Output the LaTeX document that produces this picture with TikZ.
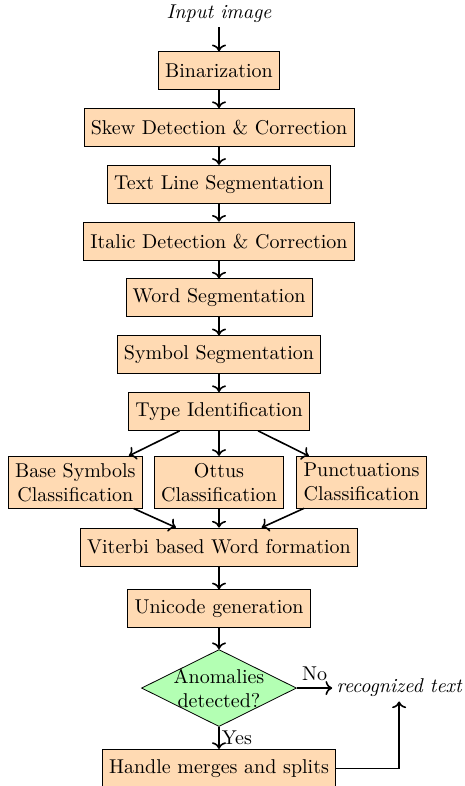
\documentclass[tikz,border=0pt]{standalone}
\usepackage{tikz}
\usetikzlibrary{arrows.meta,positioning,shapes.geometric}
\definecolor{stagefill}{RGB}{255,218,179}
\definecolor{testfill}{RGB}{179,255,179}
\tikzset{
  stage/.style={draw, fill=stagefill, minimum height=19pt, align=center},
  decision/.style={draw, diamond, fill=testfill, aspect=2, inner sep=-2pt,
    minimum width=77.5pt, minimum height=38.5pt, align=center},
  flow/.style={draw, thick, -{To}},
  io/.style={font=\itshape, inner sep=2pt}
}

\begin{document}
\begin{tikzpicture}[node distance=9pt]
  \useasboundingbox (-109.5pt,-386pt) rectangle (123pt,7pt);
  % main chain
  \node[io] (input) at (0,0) {Input image};
  \node[stage, below=12pt of input] (bin) {Binarization};
  \node[stage, below=of bin] (skew) {Skew Detection \& Correction};
  \node[stage, below=of skew] (line) {Text Line Segmentation};
  \node[stage, below=of line] (italic) {Italic Detection \& Correction};
  \node[stage, below=of italic] (word) {Word Segmentation};
  \node[stage, below=of word] (symbol) {Symbol Segmentation};
  \node[stage, below=of symbol] (type) {Type Identification};
  % three classifiers
  \node[stage, below=12.5pt of type] (ottus) {Ottus\\Classification};
  \node[stage, left=0.2cm of ottus] (base) {Base Symbols\\Classification};
  \node[stage, right=0.22cm of ottus] (punct) {Punctuations\\Classification};
  \node[stage, below=9.5pt of ottus] (viterbi) {Viterbi based Word formation};
  \node[stage, below=11.5pt of viterbi] (unicode) {Unicode generation};
  \node[decision, below=10.5pt of unicode] (anom) {Anomalies\\detected?};
  \node[io, right=0.62cm of anom] (out) {recognized text};
  \node[stage, below=11pt of anom] (handle) {Handle merges and splits};

  \draw[flow] (input) -- (bin);
  \draw[flow] (bin) -- (skew);
  \draw[flow] (skew) -- (line);
  \draw[flow] (line) -- (italic);
  \draw[flow] (italic) -- (word);
  \draw[flow] (word) -- (symbol);
  \draw[flow] (symbol) -- (type);
  \draw[flow] (type) -- (base);
  \draw[flow] (type) -- (ottus);
  \draw[flow] (type) -- (punct);
  \draw[flow] (base) -- (viterbi);
  \draw[flow] (ottus) -- (viterbi);
  \draw[flow] (punct) -- (viterbi);
  \draw[flow] (viterbi) -- (unicode);
  \draw[flow] (unicode) -- (anom);
  \draw[flow] (anom) -- node[above] {No} (out);
  \draw[flow] (anom) -- node[right, inner sep=1pt] {Yes} (handle);
  \draw[flow] (handle) -| (out);
\end{tikzpicture}
\end{document}
